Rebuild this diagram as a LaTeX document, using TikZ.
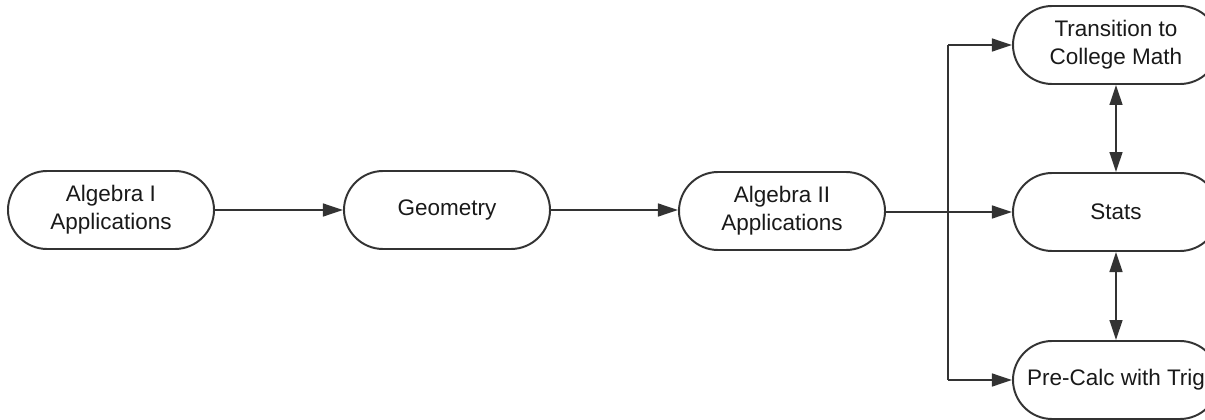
\documentclass[tikz,border=0pt]{standalone}
\usepackage{fontspec}
\setmainfont{Liberation Sans}
\usetikzlibrary{positioning,calc,arrows.meta}
\definecolor{linegray}{HTML}{333333}
\tikzset{font=\fontsize{16}{20}\selectfont}

\begin{document}
\begin{tikzpicture}[x=0.025cm, y=-0.025cm]
	\useasboundingbox (0,0) rectangle (1205,420);
	\begin{scope}
		\tikzstyle{every node}=[align=center, inner sep=1pt]
		\tikzstyle{course}=[draw=linegray, line width=1.4pt, rounded corners=0.98cm, minimum width=5.15cm, minimum height=1.95cm, text=black!90]
		\tikzstyle{link}=[draw=linegray, line width=1.4pt, -{Triangle[length=0.5cm, width=0.32cm]}]
		\tikzstyle{twoway}=[draw=linegray, line width=1.4pt, {Triangle[length=0.5cm, width=0.32cm]}-{Triangle[length=0.5cm, width=0.32cm]}]

		\node[course] (alg1) at (111, 210) {Algebra I\\Applications};
		\node[course] (geom) at (447, 210) {Geometry};
		\node[course] (alg2) at (782, 211) {Algebra II\\Applications};
		\node[course] (trans) at (1116, 45) {Transition to\\College Math};
		\node[course] (stats) at (1116, 212) {Stats};
		\node[course] (precalc) at (1116, 380) {Pre-Calc with Trig};

		\coordinate (top) at (948, 45);
		\coordinate (bot) at (948, 380);

		\draw[link](alg1) -- (geom);
		\draw[link](geom) -- (geom -| alg2.west);
		\draw[link](alg2.east |- stats) -- (stats);
		\draw[draw=linegray, line width=1.4pt](top) -- (bot);
		\draw[link](top) -- (trans);
		\draw[link](bot) -- (precalc);
		\draw[twoway](trans) -- (stats);
		\draw[twoway](stats) -- (precalc);
	\end{scope}
\end{tikzpicture}
\end{document}
